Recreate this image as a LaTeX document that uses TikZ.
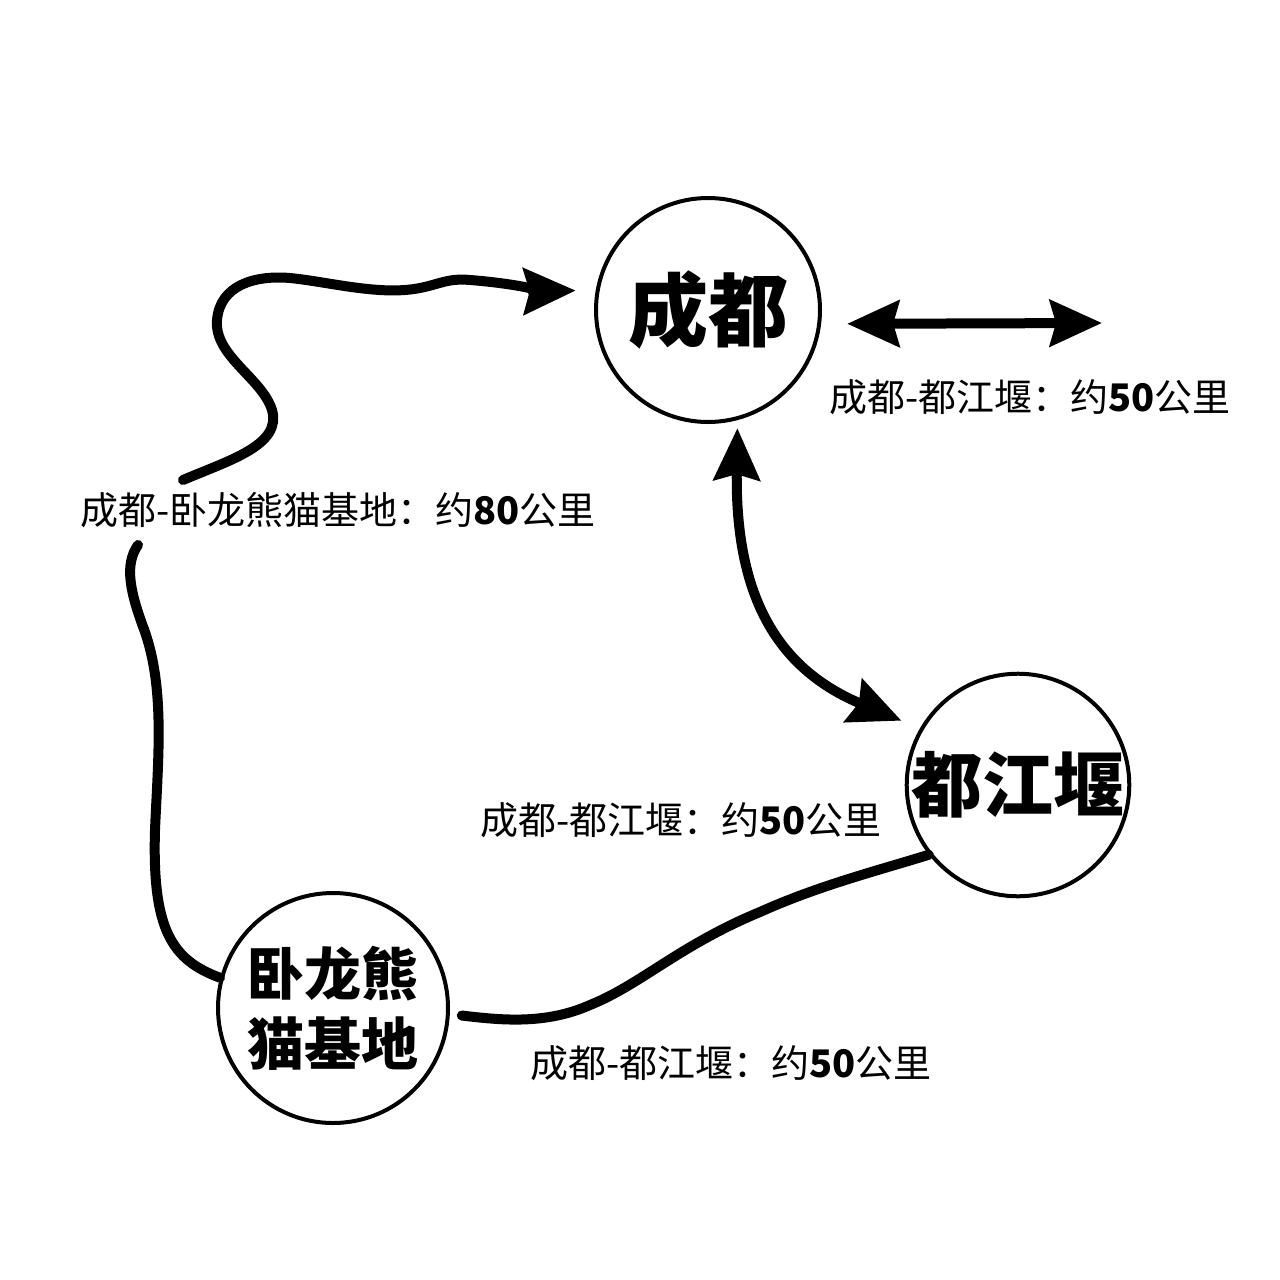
\documentclass[tikz,border=0pt]{standalone}
\usepackage{fontspec}
\newfontfamily\cjk{Noto Sans CJK SC}
\usetikzlibrary{arrows.meta}
\begin{document}
\begin{tikzpicture}[x=0.5pt,y=-0.5pt,
  city/.style={circle,draw=black,line width=2pt,inner sep=0pt,align=center,font=\cjk\bfseries},
  lbl/.style={inner sep=0pt,font=\cjk\fontsize{19pt}{22pt}\selectfont},
  route/.style={line width=5pt,line cap=round},
  tip/.style={-{Stealth[length=26pt,width=23pt,inset=3pt]}},
  tips/.style={{Stealth[length=26pt,width=23pt,inset=3pt]}-{Stealth[length=26pt,width=23pt,inset=3pt]}}
]
\useasboundingbox[fill=white] (0,0) rectangle (1280,1280);

% cities
\node[city,minimum size=112pt,font=\cjk\bfseries\fontsize{40pt}{44pt}\selectfont] (cd) at (708,310) {成都};
\node[city,minimum size=110pt,font=\cjk\bfseries\fontsize{35.5pt}{40pt}\selectfont] (dj) at (1018,785) {都江堰};
\node[city,minimum size=115pt,font=\cjk\bfseries\fontsize{28.5pt}{35pt}\selectfont] (wl) at (333,1008) {卧龙熊\\猫基地};

% labels
\node[lbl] (l1) at (338,510) {成都-卧龙熊猫基地：约{\bfseries 80}公里};
\node[lbl] (l2) at (1030,397) {成都-都江堰：约{\bfseries 50}公里};
\node[lbl] (l3) at (681,820) {成都-都江堰：约{\bfseries 50}公里};
\node[lbl] (l4) at (731,1063) {成都-都江堰：约{\bfseries 50}公里};

% free ends
\coordinate (w0) at (183,480);
\coordinate (v0) at (138,545);
\coordinate (h1) at (1102,323);

% wavy arrow to Chengdu
\draw[route,tip,shorten >=10pt] (w0) .. controls (230,460) and (282,445) .. (272,410)
  .. controls (262,378) and (214,356) .. (217,320)
  .. controls (220,285) and (255,275) .. (290,278)
  .. controls (330,282) and (380,296) .. (420,288)
  .. controls (440,284) and (448,278) .. (470,280)
  .. controls (510,283) and (550,291) .. (cd.170);

% left path to Wolong
\draw[route] (v0) .. controls (124,565) and (130,592) .. (145,632)
  .. controls (165,690) and (158,760) .. (155,830)
  .. controls (152,930) and (172,960) .. (wl.165);

% bottom path Wolong - Dujiangyan
\draw[route,shorten <=6pt] (wl.-3) .. controls (500,1020) and (545,1025) .. (590,1005)
  .. controls (640,985) and (680,945) .. (760,912)
  .. controls (820,885) and (880,870) .. (dj.218);

% Chengdu <-> Dujiangyan
\draw[route,tips,line cap=butt,shorten <=4pt,shorten >=10pt] (cd.-75) .. controls (735,600) and (780,670) .. (dj.150);

% horizontal double arrow
\draw[route,tips,line cap=butt,shorten <=13pt] (cd.-7) -- (h1);
\end{tikzpicture}
\end{document}
